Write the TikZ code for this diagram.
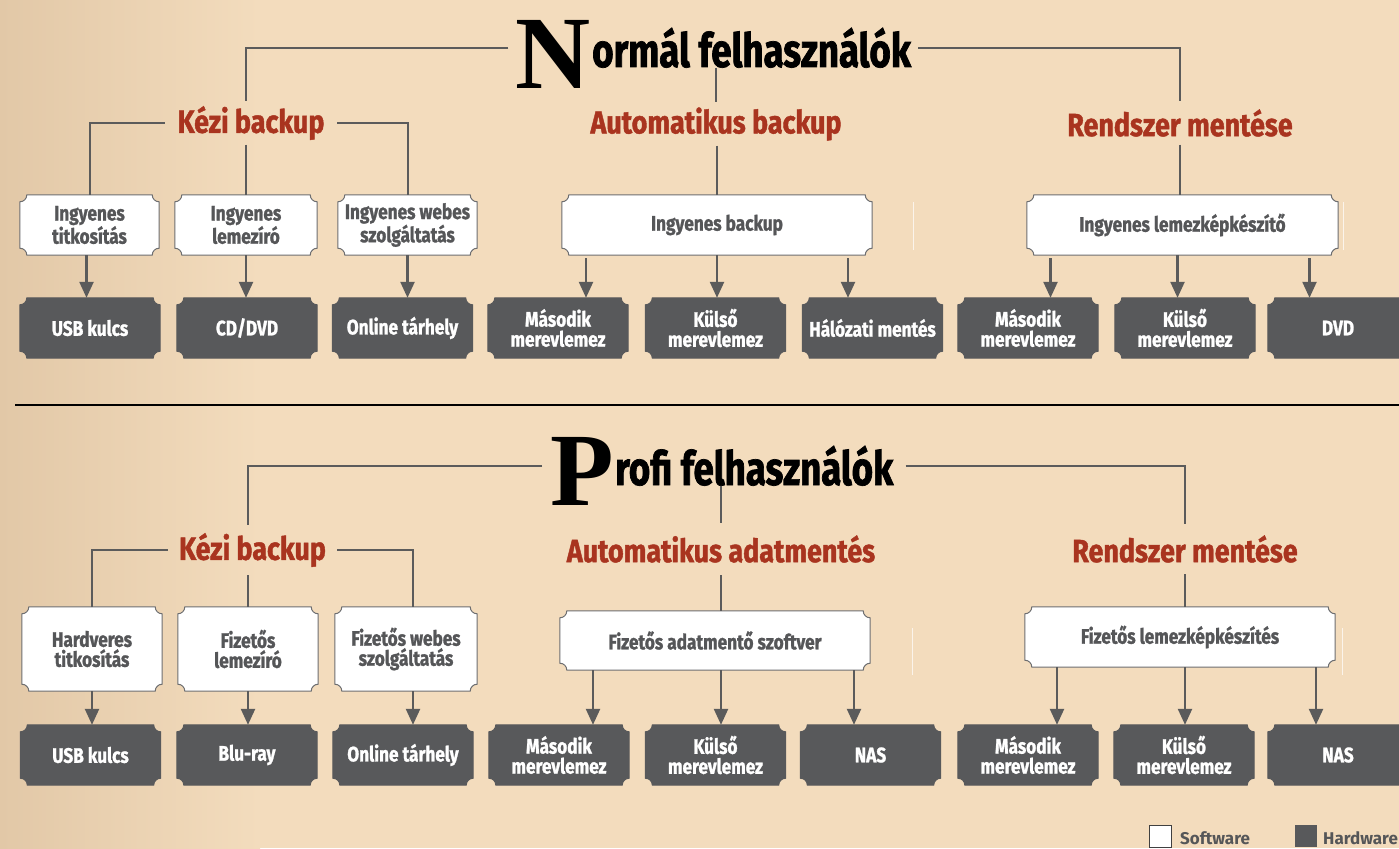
\documentclass[tikz,border=0pt]{standalone}
\usepackage{fontspec}
\setmainfont{Fira Sans}
\newfontfamily\boxfont{Fira Sans}[FakeStretch=0.82, FakeBold=1.2]
\newfontfamily\headfont{Fira Sans}[FakeStretch=0.84, FakeBold=1.3]
\newfontfamily\titlefont{Fira Sans}[FakeStretch=0.78, FakeBold=1.5]
\newfontfamily\dropfont{Liberation Serif}
\usetikzlibrary{arrows.meta,calc}
\definecolor{bgc}{HTML}{F3DCBD}
\definecolor{bgl}{HTML}{E2C8A7}
\definecolor{redc}{HTML}{A9341F}
\definecolor{boxc}{HTML}{58595B}
\definecolor{linec}{HTML}{5B5B5B}
\definecolor{bordc}{HTML}{6D6E70}
\definecolor{txtgray}{HTML}{555658}
\pgfdeclarelayer{bg}
\pgfdeclarelayer{boxes}
\pgfsetlayers{bg,boxes,main}
\newcommand\ticket[3]{%
\path[fill=#2,draw=#3,line width=1pt] let \p1=(#1.south west), \p2=(#1.north east) in
 (\x1+7pt,\y1) -- (\x2-7pt,\y1) .. controls (\x2-7pt,\y1+3.9pt) and (\x2-3.9pt,\y1+7pt) .. (\x2,\y1+7pt)
 -- (\x2,\y2-7pt) .. controls (\x2-3.9pt,\y2-7pt) and (\x2-7pt,\y2-3.9pt) .. (\x2-7pt,\y2)
 -- (\x1+7pt,\y2) .. controls (\x1+7pt,\y2-3.9pt) and (\x1+3.9pt,\y2-7pt) .. (\x1,\y2-7pt)
 -- (\x1,\y1+7pt) .. controls (\x1+3.9pt,\y1+7pt) and (\x1+7pt,\y1+3.9pt) .. (\x1+7pt,\y1) -- cycle;}
\tikzset{
 conn/.style={draw=linec, line width=2pt},
 arr/.style={draw=linec, line width=2.4pt, -{Triangle[width=14pt,length=16pt]}},
 sw/.style={inner sep=0pt, align=center, text=txtgray, font={\boxfont\bfseries\fontsize{21}{20}\selectfont}},
 hw/.style={inner sep=0pt, align=center, text=white, minimum width=140pt, minimum height=60pt, font={\boxfont\bfseries\fontsize{21}{20}\selectfont}},
 head/.style={inner sep=0pt, text=redc, font={\headfont\bfseries\fontsize{32}{32}\selectfont}},
 ttl/.style={inner sep=0pt, text=black, font={\titlefont\bfseries\fontsize{47}{47}\selectfont}},
 drop/.style={inner sep=0pt, text=black, font={\dropfont\bfseries\fontsize{104}{104}\selectfont}},
 leg/.style={inner sep=0pt, text=txtgray, font={\bfseries\fontsize{17}{17}\selectfont}},
 faint/.style={draw=white, opacity=0.7, line width=1pt}
}
\begin{document}
\begin{tikzpicture}[x=1pt,y=-1pt]
\useasboundingbox (0,0) rectangle (1399,848);
\begin{pgfonlayer}{bg}
\fill[bgc] (0,0) rectangle (1399,848);
\shade[left color=bgl, right color=bgc] (0,0) rectangle (260,848);
\end{pgfonlayer}

% ---------- top section ----------
\node[ttl, anchor=base west] (t1) at (592,67) {ormál felhasználók};
\node[drop] (n1) at (553,54) {N};

\node[head, minimum width=172pt, minimum height=43pt] (k1) at (251,123) {Kézi backup};
\node[head, minimum height=43pt] (a1) at (716,124) {Automatikus backup};
\node[head, minimum height=43pt] (r1) at (1180,123) {Rendszer mentése};

\node[sw, minimum width=139pt, minimum height=60pt] (s1) at (89.5,225) {Ingyenes\\titkosítás};
\node[sw, minimum width=142pt, minimum height=60pt] (s2) at (246,225) {Ingyenes\\lemezíró};
\node[sw, minimum width=139pt, minimum height=60pt] (s3) at (407.5,225) {Ingyenes webes\\szolgáltatás};
\node[sw, minimum width=310pt, minimum height=60pt] (s4) at (717,225) {Ingyenes backup};
\node[sw, minimum width=311pt, minimum height=60pt] (s5) at (1182.5,225) {Ingyenes lemezképkészítő};

\node[hw] (h1) at (90,328) {USB kulcs};
\node[hw] (h2) at (247,328) {CD/DVD};
\node[hw] (h3) at (402.5,328) {Online tárhely};
\node[hw] (h4) at (558,328) {Második\\merevlemez};
\node[hw] (h5) at (715.5,328) {Külső\\merevlemez};
\node[hw] (h6) at (872.5,328) {Hálózati mentés};
\node[hw] (h7) at (1028,328) {Második\\merevlemez};
\node[hw] (h8) at (1185,328) {Külső\\merevlemez};
\node[hw] (h9) at (1338,328) {DVD};

\draw[conn] ([xshift=-7pt]n1.west |- t1.west) -| (k1.north -| s2.north);
\draw[conn] ([xshift=7pt]t1.east) -| (r1.north);
\draw[conn] (t1.south -| a1.north) -- (a1.north);
\draw[conn] (k1.west) -| (s1.north);
\draw[conn] (k1.east) -| (s3.north);
\draw[conn] (k1.south -| s2.north) -- (s2.north);
\draw[conn] (a1.south -| s4.north) -- (s4.north);
\draw[conn] (r1.south) -- (r1.south |- s5.north);

\coordinate (s1o) at ([xshift=-3pt]s1.south);
\coordinate (s4a) at ([xshift=-131pt,yshift=-3pt]s4.south);
\coordinate (s4c) at ([xshift=131pt,yshift=-3pt]s4.south);
\coordinate (s5a) at ([xshift=-132pt,yshift=-3pt]s5.south);
\coordinate (s5b) at ([xshift=-5pt]s5.south);
\coordinate (s5c) at ([xshift=127pt,yshift=-3pt]s5.south);
\draw[arr] (s1o) -- (s1o |- h1.north);
\draw[arr] (s2.south) -- (s2.south |- h2.north);
\draw[arr] (s3.south) -- (s3.south |- h3.north);
\draw[arr] (s4a) -- (s4a |- h4.north);
\draw[arr] (s4.south) -- (s4.south |- h5.north);
\draw[arr] (s4c) -- (s4c |- h6.north);
\draw[arr] (s5a) -- (s5a |- h7.north);
\draw[arr] (s5b) -- (s5b |- h8.north);
\draw[arr] (s5c) -- (s5c |- h9.north);

\draw[faint] (913,202) -- (913,250);
\draw[faint] (1343,202) -- (1343,250);

\draw[black, line width=1.3pt] (15,405) -- (1399,405);

% ---------- bottom section ----------
\node[ttl, anchor=base west] (t2) at (615,485) {rofi felhasználók};
\node[drop] (p2) at (582,471) {P};

\node[head, minimum width=169pt, minimum height=50pt] (k2) at (252.5,550) {Kézi backup};
\node[head, minimum height=52pt] (a2) at (721,549) {Automatikus adatmentés};
\node[head, minimum height=50pt] (r2) at (1185,549) {Rendszer mentése};

\node[sw, minimum width=140pt, minimum height=84pt] (b1) at (92,649) {Hardveres\\titkosítás};
\node[sw, minimum width=140pt, minimum height=84pt] (b2) at (248,649) {Fizetős\\lemezíró};
\node[sw, minimum width=142pt, minimum height=84pt] (b3) at (406,649) {Fizetős webes\\szolgáltatás};
\node[sw, minimum width=310pt, minimum height=59pt] (b4) at (715,640.5) {Fizetős adatmentő szoftver};
\node[sw, minimum width=310pt, minimum height=60pt] (b5) at (1180,637) {Fizetős lemezképkészítés};

\node[hw] (g1) at (90.5,755) {USB kulcs};
\node[hw] (g2) at (247,755) {Blu-ray};
\node[hw] (g3) at (403,755) {Online tárhely};
\node[hw] (g4) at (559,755) {Második\\merevlemez};
\node[hw] (g5) at (715.5,755) {Külső\\merevlemez};
\node[hw] (g6) at (870.5,755) {NAS};
\node[hw] (g7) at (1028,755) {Második\\merevlemez};
\node[hw] (g8) at (1184,755) {Külső\\merevlemez};
\node[hw] (g9) at (1338,755) {NAS};

\coordinate (b3n) at ([xshift=7pt]b3.north);
\coordinate (b3s) at ([xshift=7pt]b3.south);
\draw[conn] ([xshift=-8pt]p2.west |- t2.west) -| (k2.north -| b2.north);
\draw[conn] ([xshift=12pt]t2.east) -| (r2.north);
\draw[conn] (t2.south -| a2.north) -- (a2.north);
\draw[conn] (k2.west) -| (b1.north);
\draw[conn] (k2.east) -| (b3n);
\draw[conn] (k2.south -| b2.north) -- (b2.north);
\draw[conn] (a2.south) -- (a2.south |- b4.north);
\draw[conn] (r2.south) -- (r2.south |- b5.north);

\coordinate (b4a) at ([xshift=-122pt]b4.south);
\coordinate (b4b) at ([xshift=6pt]b4.south);
\coordinate (b4c) at ([xshift=139pt]b4.south);
\coordinate (b5a) at ([xshift=-123pt]b5.south);
\coordinate (b5b) at ([xshift=5pt]b5.south);
\coordinate (b5c) at ([xshift=136pt]b5.south);
\draw[arr] (b1.south) -- (b1.south |- g1.north);
\draw[arr] (b2.south) -- (b2.south |- g2.north);
\draw[arr] (b3s) -- (b3s |- g3.north);
\draw[arr] (b4a) -- (b4a |- g4.north);
\draw[arr] (b4b) -- (b4b |- g5.north);
\draw[arr] (b4c) -- (b4c |- g6.north);
\draw[arr] (b5a) -- (b5a |- g7.north);
\draw[arr] (b5b) -- (b5b |- g8.north);
\draw[arr] (b5c) -- (b5c |- g9.north);

\draw[faint] (912,628) -- (912,675);
\draw[faint] (1342,628) -- (1342,675);

% ---------- legend ----------
\node[draw=black!75, fill=white, line width=1pt, minimum size=22pt, inner sep=0pt] (lsw) at (1160,836) {};
\node[leg, anchor=west] (lswt) at (1180,838) {Software};
\node[fill=boxc, minimum size=22pt, inner sep=0pt] (lhw) at (1306,836) {};
\node[leg, anchor=west] (lhwt) at (1323,838) {Hardware};

\begin{pgfonlayer}{boxes}
\foreach \bx in {s1,s2,s3,s4,s5,b1,b2,b3,b4,b5} {\ticket{\bx}{white}{bordc}}
\foreach \bx in {h1,h2,h3,h4,h5,h6,h7,h8,h9,g1,g2,g3,g4,g5,g6,g7,g8,g9} {\ticket{\bx}{boxc}{boxc}}
\end{pgfonlayer}
\end{tikzpicture}
\end{document}
